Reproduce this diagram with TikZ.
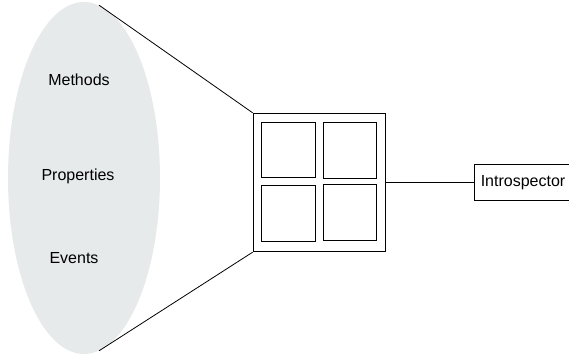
\documentclass[tikz,border=0pt]{standalone}
\usepackage{fontspec}
\setmainfont{Liberation Sans}
\usetikzlibrary{shapes.geometric}
\definecolor{beanfill}{RGB}{230,234,235}

\begin{document}
\begin{tikzpicture}[
  x=0.75pt, y=-0.75pt,
  feature/.style={font=\fontsize{12}{14}\selectfont},
  pane/.style={draw, line width=0.6pt, minimum width=40pt, minimum height=41.5pt, inner sep=0pt},
  link/.style={line width=0.6pt}
]
\useasboundingbox (0,0) rectangle (569,356);

% --- Ziarno z cechami ---
\node[ellipse, fill=beanfill, minimum width=114pt, minimum height=264pt, inner sep=0pt] (bean) at (84,178) {};
\node[feature] (methods) at (79,80) {Methods};
\node[feature] (props) at (78,176) {Properties};
\node[feature] (events) at (74,258) {Events};

% --- Okno z czterema panelami ---
\node[draw, line width=0.6pt, minimum width=99pt, minimum height=104pt, inner sep=0pt] (box) at (319,182.5) {};
\node[pane] (paneA) at (288.5,150) {};
\node[pane] (paneB) at (350,150.5) {};
\node[pane] (paneC) at (288.5,213.5) {};
\node[pane] (paneD) at (350,212.5) {};

% --- Introspector ---
\node[draw, line width=0.6pt, feature, minimum width=73.5pt, minimum height=27pt, inner sep=0pt] (intro) at (523,182.5) {Introspector};

% --- Linie ---
\draw[link] (bean.85) -- (box.north west);
\draw[link] (bean.-85) -- (box.south west);
\draw[link] (box.east) -- (intro.west);

\end{tikzpicture}
\end{document}
